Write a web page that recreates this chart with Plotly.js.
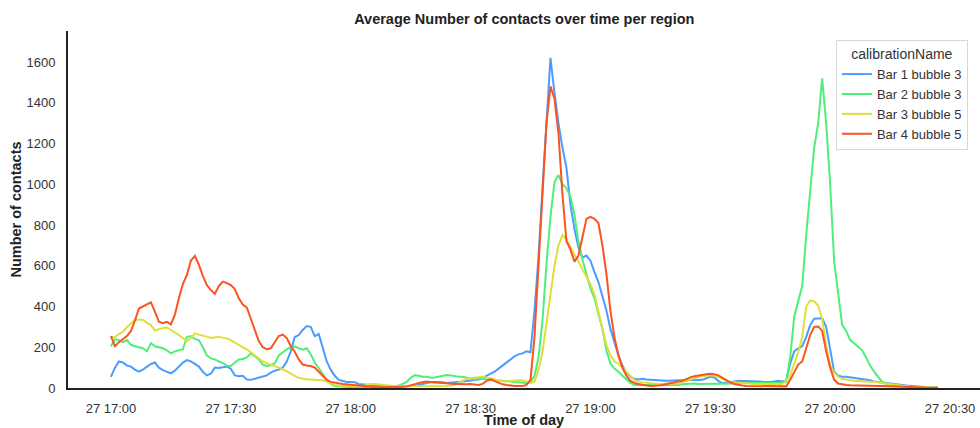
<!DOCTYPE html>
<html>
<head>
<meta charset="utf-8">
<script src="https://cdn.plot.ly/plotly-3.0.1.min.js"></script>
<style>html,body{margin:0;padding:0;background:#fff;}#chart{width:980px;height:428px;}</style>
</head>
<body>
<div id="chart"></div>
<script>
// Sample times: one reading per minute starting 27th 17:00
const startTime = "2021-05-27 17:00";
const sampleCount = 208;

const seriesNames = ["Bar 1 bubble 3", "Bar 2 bubble 3", "Bar 3 bubble 5", "Bar 4 bubble 5"];

const bar1 = [
  55,100,130,125,110,105,90,80,90,105,
  118,125,100,88,80,72,85,105,125,137,
  130,118,105,80,62,70,100,98,100,105,
  95,62,58,60,42,40,45,50,55,62,
  75,85,90,100,130,180,250,260,285,304,
  300,255,265,200,130,90,60,40,35,30,
  30,28,20,18,15,12,10,8,6,5,
  5,5,5,6,8,10,12,15,20,25,
  28,30,30,28,25,25,28,30,32,35,
  38,40,42,50,60,70,80,95,110,125,
  140,155,165,170,180,175,380,640,980,1330,
  1620,1450,1300,1180,1080,900,780,690,640,650,
  625,570,520,450,380,290,220,160,110,75,
  55,45,42,45,42,40,38,36,35,35,
  36,38,38,38,38,38,38,40,40,48,
  55,52,35,23,25,30,32,35,35,33,
  32,32,32,31,30,30,32,35,32,35,
  120,180,195,205,250,310,340,342,342,300,
  180,80,60,55,55,52,50,48,45,42,
  38,32,30,28,25,22,20,18,15,12,
  10,8,6,5,4,3,2,2
];
const bar2 = [
  205,240,235,225,235,212,205,200,195,180,
  220,205,200,195,185,170,180,185,190,250,
  255,240,235,200,160,145,140,130,122,110,
  108,125,140,142,150,170,155,140,115,108,
  112,122,160,175,190,200,203,195,188,195,
  165,125,100,70,40,20,10,8,5,3,
  2,2,2,2,2,2,2,2,3,3,
  4,8,12,20,30,50,62,60,55,55,
  50,52,55,60,64,62,58,55,55,50,
  45,42,46,45,42,40,38,38,36,34,
  32,30,28,25,25,30,60,150,330,610,
  840,1010,1045,1000,980,940,850,720,630,560,
  490,440,370,290,185,120,95,80,60,40,
  25,15,15,14,13,12,12,12,12,12,
  12,12,15,18,20,22,22,20,20,20,
  20,20,20,22,22,22,22,22,24,24,
  24,24,24,24,24,24,24,24,25,30,
  150,350,420,500,750,950,1180,1300,1520,1300,
  1000,620,450,310,280,235,220,200,185,150,
  110,80,55,30,20,15,12,10,8,6,
  5,5,4,4,3,3,2,2
];
const bar3 = [
  250,250,265,275,300,315,335,335,335,320,
  310,282,290,295,297,285,275,260,245,230,
  245,268,262,258,252,246,248,252,246,244,
  235,222,210,200,190,175,158,145,130,122,
  115,110,100,92,80,72,60,50,45,42,
  42,40,40,38,32,22,15,12,10,10,
  10,8,8,10,15,20,20,18,15,12,
  10,8,8,8,8,8,8,8,8,8,
  8,8,8,8,10,12,15,25,35,45,
  48,50,55,55,52,48,42,35,32,32,
  35,38,38,37,30,25,30,90,175,320,
  460,600,700,750,730,690,655,620,585,550,
  510,460,380,290,210,160,130,120,100,80,
  60,40,30,28,25,22,20,20,20,22,
  20,20,22,28,35,42,50,55,58,60,
  62,60,55,45,35,30,28,26,25,24,
  22,20,20,20,18,18,18,18,20,35,
  60,120,175,250,400,430,425,405,340,210,
  110,75,55,45,40,38,36,35,34,33,
  32,30,28,25,22,18,15,12,10,8,
  6,5,4,3,3,2,2,2
];
const bar4 = [
  255,205,225,240,255,280,330,390,400,410,
  420,375,325,318,325,312,360,440,510,555,
  625,648,605,550,505,480,462,500,522,515,
  505,485,440,410,395,340,280,230,200,190,
  195,225,255,262,245,205,178,140,115,110,
  108,100,80,60,40,30,25,23,20,18,
  15,12,10,8,6,5,5,4,4,4,
  4,4,5,6,8,12,18,25,30,32,
  30,28,25,23,22,22,20,20,18,18,
  20,18,15,20,35,42,35,25,18,15,
  12,10,10,10,15,40,250,600,980,1300,
  1480,1420,1250,950,720,680,620,650,740,830,
  840,830,810,700,560,380,250,160,100,60,
  35,25,20,15,12,10,10,12,15,20,
  25,30,32,35,45,52,58,62,65,68,
  70,68,62,50,38,28,20,15,12,10,
  10,8,8,8,8,8,8,8,7,8,
  40,80,115,130,200,260,300,302,280,180,
  100,40,22,18,15,14,13,12,12,12,
  11,10,10,10,9,8,7,6,5,4,
  3,3,2,2,1,1,1,1
];

const tickVals = ["2021-05-27 17:00","2021-05-27 17:30","2021-05-27 18:00","2021-05-27 18:30","2021-05-27 19:00","2021-05-27 19:30","2021-05-27 20:00","2021-05-27 20:30"];
const tickText = ["27 17:00","27 17:30","27 18:00","27 18:30","27 19:00","27 19:30","27 20:00","27 20:30"];
const yTicks = [0,200,400,600,800,1000,1200,1400,1600];

const colors = ["#4a9dff", "#4eef78", "#dede3c", "#fb5420"];

function pad(n){return (n<10?"0":"")+n;}
const t0 = new Date(startTime.replace(" ","T")+":00");
const times = [];
for (let i = 0; i < sampleCount; i++) {
  const d = new Date(t0.getTime() + i*60000);
  times.push(d.getFullYear()+"-"+pad(d.getMonth()+1)+"-"+pad(d.getDate())+" "+pad(d.getHours())+":"+pad(d.getMinutes()));
}

const allSeries = [bar1, bar2, bar3, bar4];
const traces = allSeries.map((vals, i) => ({
  x: times, y: vals, type: "scatter", mode: "lines",
  name: seriesNames[i], line: {color: colors[i], width: 2}
}));

const font = "Liberation Sans, Arial, sans-serif";
const layout = {
  width: 980, height: 428,
  margin: {l: 68, r: 0, t: 31, b: 40},
  paper_bgcolor: "#fff", plot_bgcolor: "#fff",
  font: {family: font, size: 13, color: "#333"},
  title: {text: "<b>Average Number of contacts over time per region</b>", x: 0.535, xanchor: "center", y: 0.955, yanchor: "middle", font: {size: 14.5, color: "#222", family: font}},
  xaxis: {
    type: "date",
    range: ["2021-05-27 16:49:15", "2021-05-27 20:37:30"],
    tickvals: tickVals, ticktext: tickText,
    showgrid: false, zeroline: false,
    showline: true, linecolor: "#222", linewidth: 2,
    ticks: "", ticklabelstandoff: 7,
    tickfont: {size: 13, color: "#333"},
    title: {text: "<b>Time of day</b>", font: {size: 14.5, color: "#222"}, standoff: 0}
  },
  yaxis: {
    range: [0, 1752],
    tickvals: yTicks,
    showgrid: false, zeroline: false,
    showline: true, linecolor: "#222", linewidth: 2,
    ticks: "", ticklabelstandoff: 8,
    tickfont: {size: 13, color: "#333"},
    title: {text: "<b>Number of contacts</b>", font: {size: 14.5, color: "#222"}, standoff: 1}
  },
  showlegend: true,
  legend: {
    x: 0.842, y: 0.975, xanchor: "left", yanchor: "top",
    bgcolor: "#fff", bordercolor: "#d8d8d8", borderwidth: 1,
    font: {size: 13, color: "#333"},
    title: {text: "calibrationName", side: "top center", font: {size: 14, color: "#333"}},
    tracegroupgap: 0
  }
};

Plotly.newPlot("chart", traces, layout, {staticPlot: true, displayModeBar: false});
</script>
</body>
</html>
